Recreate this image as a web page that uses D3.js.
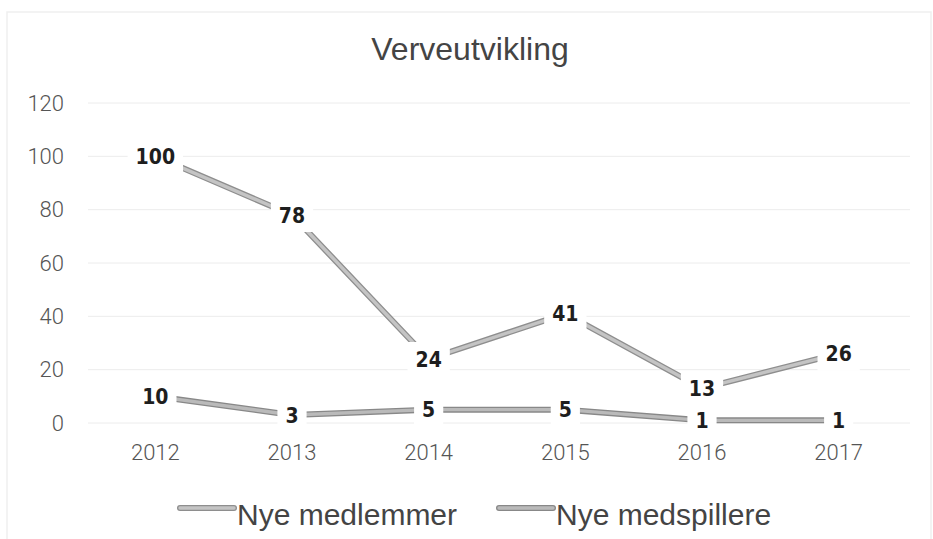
<!DOCTYPE html>
<html>
<head>
<meta charset="utf-8">
<script src="https://cdn.jsdelivr.net/npm/d3@7/dist/d3.min.js"></script>
<style>
  body { margin: 0; background: #fff; }
</style>
</head>
<body>
<div id="chart-area"></div>
<script>
    var years = ['2012', '2013', '2014', '2015', '2016', '2017'];
    var medlemmer = [100, 78, 24, 41, 13, 26];
    var medspillere = [10, 3, 5, 5, 1, 1];
    var yTicks = [0, 20, 40, 60, 80, 100, 120];
    var seriesNames = ['Nye medlemmer', 'Nye medspillere'];

    var W = 933, H = 539;

    var svg = d3.select('#chart-area')
        .append('svg')
        .attr('width', W)
        .attr('height', H);

    // faint frame of the scanned chart
    svg.append('rect')
        .attr('x', 7).attr('y', 12)
        .attr('width', 924).attr('height', 540)
        .attr('fill', 'none')
        .attr('stroke', '#efefef')
        .attr('stroke-width', 1.5);

    var xScale = d3.scaleBand()
        .domain(years)
        .range([87, 907]);

    var yScale = d3.scaleLinear()
        .domain([0, 120])
        .range([423, 103]);

    var xc = function (d) { return xScale(d) + xScale.bandwidth() / 2; };

    svg.append('text')
        .attr('x', 470)
        .attr('y', 60)
        .attr('text-anchor', 'middle')
        .attr('font-family', 'Liberation Sans, Arial, sans-serif')
        .attr('font-size', '32px')
        .attr('fill', '#444')
        .text('Verveutvikling');

    // grid
    svg.append('g').selectAll('line')
        .data(yTicks)
        .enter().append('line')
        .attr('x1', 88).attr('x2', 910)
        .attr('y1', function (d) { return yScale(d); })
        .attr('y2', function (d) { return yScale(d); })
        .attr('stroke', '#ececec')
        .attr('stroke-width', 1);

    var yAxisCall = d3.axisLeft(yScale).tickValues(yTicks).tickSize(0).tickPadding(0);
    var yAxis = svg.append('g')
        .attr('transform', 'translate(64,0)')
        .call(yAxisCall);
    yAxis.select('.domain').remove();
    yAxis.selectAll('text')
        .attr('font-family', 'Roboto, DejaVu Sans, sans-serif')
        .attr('font-weight', 300)
        .attr('font-size', '22px')
        .attr('fill', '#555');

    var allSeries = [medlemmer, medspillere];
    var outer = ['#8e8e8e', '#888888'];
    var inner = ['#c4c4c4', '#bababa'];

    var line = d3.line()
        .x(function (d, i) { return xc(years[i]); })
        .y(function (d) { return yScale(d); });

    allSeries.forEach(function (s, k) {
        svg.append('path')
            .attr('d', line(s))
            .attr('fill', 'none')
            .attr('stroke', outer[k])
            .attr('stroke-width', 6)
            .attr('stroke-linejoin', 'round');
        svg.append('path')
            .attr('d', line(s))
            .attr('fill', 'none')
            .attr('stroke', inner[k])
            .attr('stroke-width', 3.4)
            .attr('stroke-linejoin', 'round');
    });

    // data labels on white boxes that hide the line near the point
    allSeries.forEach(function (s) {
        s.forEach(function (v, i) {
            var g = svg.append('g')
                .attr('transform', 'translate(' + xc(years[i]) + ',' + yScale(v) + ')');
            var r = g.append('rect').attr('fill', '#fff');
            var t = g.append('text')
                .attr('text-anchor', 'middle')
                .attr('dy', '0.36em')
                .attr('font-family', 'DejaVu Sans Condensed, DejaVu Sans, sans-serif')
                .attr('font-weight', 'bold')
                .attr('font-size', '21px')
                .attr('fill', '#1e1e1e')
                .text(v);
            var b = t.node().getBBox();
            r.attr('x', b.x - 8).attr('width', b.width + 16)
             .attr('y', -17).attr('height', 34);
        });
    });

    var xAxisCall = d3.axisBottom(xScale).tickSize(0).tickPadding(0);
    var xAxis = svg.append('g')
        .attr('transform', 'translate(0,444)')
        .call(xAxisCall);
    xAxis.select('.domain').remove();
    xAxis.selectAll('text')
        .attr('font-family', 'Roboto, DejaVu Sans, sans-serif')
        .attr('font-weight', 300)
        .attr('font-size', '22px')
        .attr('fill', '#555');

    // legend
    var legendX = [180, 499];
    seriesNames.forEach(function (name, k) {
        var lg = svg.append('g').attr('transform', 'translate(' + legendX[k] + ',508)');
        lg.append('line')
            .attr('x1', 0).attr('x2', 54)
            .attr('stroke', outer[k]).attr('stroke-width', 6)
            .attr('stroke-linecap', 'round');
        lg.append('line')
            .attr('x1', 0).attr('x2', 54)
            .attr('stroke', inner[k]).attr('stroke-width', 3.4)
            .attr('stroke-linecap', 'round');
        lg.append('text')
            .attr('x', 57)
            .attr('y', 17)
            .attr('font-family', 'Liberation Sans, Arial, sans-serif')
            .attr('font-size', '30px')
            .attr('fill', '#444')
            .text(name);
    });
</script>
</body>
</html>
